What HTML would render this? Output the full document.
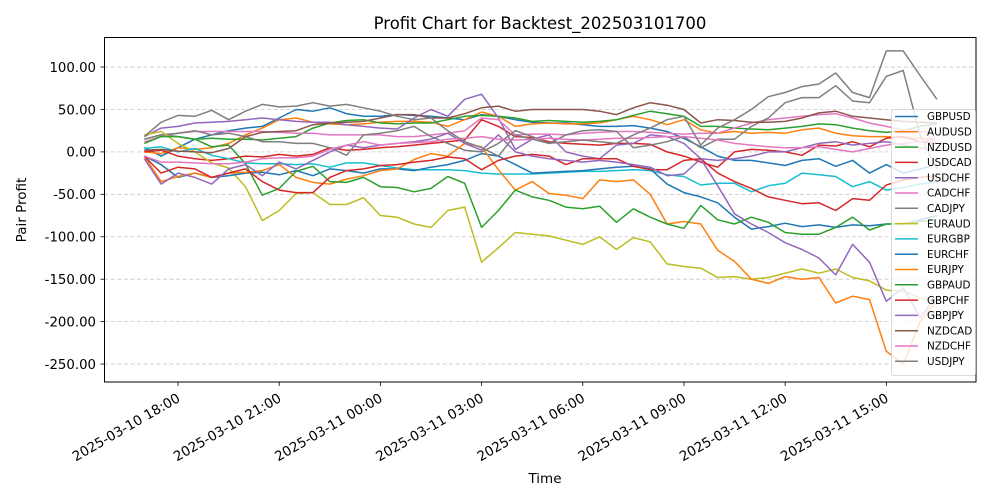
<!DOCTYPE html>
<html><head><meta charset="utf-8"><style>
html,body{margin:0;padding:0;background:#fff;}
svg{display:block;font-family:"DejaVu Sans","Liberation Sans",sans-serif;}
</style></head><body>
<svg id="chart" width="1000" height="500" viewBox="0 0 1000 500">
<rect width="1000" height="500" fill="#fff"/>
<g id="grid"></g>
<g id="series"></g>
<rect x="104.5" y="37.5" width="871.5" height="344.5" fill="none" stroke="#000" stroke-width="1"/>
<g id="axes"></g>
<text x="540" y="29" text-anchor="middle" font-size="16.5" fill="#000">Profit Chart for Backtest_202503101700</text>
<text x="545" y="483" text-anchor="middle" font-size="13.5" fill="#000">Time</text>
<text transform="translate(26,210) rotate(-90)" text-anchor="middle" font-size="13.5" fill="#000">Pair Profit</text>
<g id="legend"></g>
</svg>
<script>
// hours relative to 2025-03-10 18:00
const times = [-1,-0.5,0,0.5,1,1.5,2,2.5,3,3.5,4,4.5,5,5.5,6,6.5,7,7.5,8,8.5,9,9.5,10,10.5,11,11.5,12,12.5,13,13.5,14,14.5,15,15.5,16,16.5,17,17.5,18,18.5,19,19.5,20,20.5,21,21.5,22,22.5];
const seriesNames = ["GBPUSD","AUDUSD","NZDUSD","USDCAD","USDCHF","CADCHF","CADJPY","EURAUD","EURGBP","EURCHF","EURJPY","GBPAUD","GBPCHF","GBPJPY","NZDCAD","NZDCHF","USDJPY"];
const seriesColors = ["#1f77b4","#ff7f0e","#2ca02c","#d62728","#9467bd","#e377c2","#7f7f7f","#bcbd22","#17becf","#1f77b4","#ff7f0e","#2ca02c","#d62728","#9467bd","#8c564b","#e377c2","#7f7f7f"];
const GBPUSD = [5,-5,5,15,20,25,28,30,40,50,48,52,45,42,42,44,43,42,40,38,44,42,38,35,34,34,32,30,30,31,28,24,16,6,-5,-10,-10,-13,-16,-10,-8,-17,-10,-25,-15,-25,-20,-15];
const AUDUSD = [0,-2,5,3,5,10,20,28,38,40,35,33,32,33,35,36,36,35,30,38,47,42,30,33,34,33,33,34,38,42,38,32,38,26,22,24,22,23,22,26,28,22,19,18,18,17,16,15];
const NZDUSD = [15,20,18,15,16,15,15,14,16,18,28,34,37,38,34,33,34,34,38,42,43,42,40,36,37,36,35,36,38,43,48,45,42,30,30,28,27,26,28,30,33,32,28,25,23,25,30,33];
const USDCAD = [0,2,-5,-8,-10,-8,-5,-6,-3,-5,-3,5,2,3,5,6,8,10,12,14,38,30,18,17,12,10,9,8,10,10,9,0,-5,-12,-18,0,3,2,0,-4,8,7,12,6,16,18,12,10];
const USDCHF = [18,28,30,34,35,36,38,40,38,36,35,35,32,30,28,27,40,50,42,62,68,40,3,15,20,0,-5,-8,8,10,20,18,10,-8,-10,-8,-5,0,0,5,10,12,8,10,12,8,5,2];
const CADCHF = [12,18,22,24,24,24,24,24,23,22,22,20,20,20,20,18,18,20,22,25,40,38,20,21,21,20,22,23,24,24,23,22,21,22,22,28,34,38,40,42,44,45,40,34,30,26,24,22];
const CADJPY = [15,20,22,25,20,22,18,12,12,10,10,5,-4,20,22,25,30,18,10,2,0,10,25,18,10,20,25,26,24,5,8,12,18,5,15,15,30,40,58,64,64,78,60,58,89,96,20,-20];
const EURAUD = [20,24,10,0,-13,-19,-41,-81,-69,-49,-48,-62,-62,-54,-75,-77,-85,-89,-69,-65,-130,-113,-95,-97,-99,-104,-109,-100,-115,-101,-106,-132,-135,-137,-148,-147,-150,-148,-143,-138,-143,-138,-148,-152,-163,-164,-172,-176];
const EURGBP = [4,6,0,4,-4,-8,-13,-14,-14,-15,-14,-18,-13,-13,-16,-19,-21,-21,-21,-22,-25,-26,-26,-26,-25,-24,-23,-23,-22,-21,-22,-27,-29,-39,-37,-37,-47,-40,-37,-25,-27,-29,-41,-35,-45,-42,-38,-35];
const EURCHF = [-5,-15,-30,-25,-30,-28,-25,-24,-27,-22,-28,-20,-22,-25,-20,-20,-22,-18,-15,-10,-2,-5,-15,-25,-24,-23,-22,-20,-18,-17,-20,-38,-48,-53,-60,-77,-91,-88,-84,-88,-86,-89,-86,-87,-85,-85,-80,-75];
const EURJPY = [-5,-35,-29,-25,-30,-25,-24,-22,-15,-30,-36,-38,-32,-28,-22,-20,-9,-2,-5,10,6,-21,-45,-35,-49,-51,-55,-33,-35,-33,-50,-85,-82,-85,-116,-129,-150,-155,-147,-150,-148,-178,-170,-174,-235,-250,-200,-175];
const GBPAUD = [10,18,18,15,6,8,-14,-51,-43,-23,-17,-35,-36,-30,-41,-42,-47,-43,-29,-37,-89,-69,-45,-53,-57,-65,-67,-64,-83,-67,-77,-85,-90,-63,-80,-85,-77,-83,-95,-97,-97,-89,-77,-92,-85,-85,-82,-80];
const GBPCHF = [-5,-25,-18,-20,-30,-25,-20,-35,-45,-48,-48,-30,-22,-20,-16,-15,-12,-10,-6,-8,-21,-10,-5,-3,-5,-15,-8,-8,-8,-17,-21,-21,-10,-8,-25,-35,-43,-53,-57,-61,-60,-69,-55,-57,-39,-33,-30,-28];
const GBPJPY = [-8,-38,-25,-30,-38,-20,-15,-28,-12,-20,-10,0,8,5,8,10,12,15,22,10,2,20,0,-5,-8,-10,-12,-10,-12,-15,-18,-28,-26,-8,-40,-73,-85,-95,-107,-115,-125,-145,-109,-130,-176,-160,-195,-170];
const NZDCAD = [2,3,1,0,-1,4,18,23,24,25,32,34,35,36,40,44,44,40,40,45,52,54,48,50,50,50,50,48,44,52,58,55,50,34,38,37,35,35,36,40,46,48,42,40,38,36,35,34];
const NZDCHF = [-5,-12,-12,-13,-14,-14,-12,-8,-7,-7,-5,3,8,12,8,10,11,12,15,16,18,15,14,15,16,15,14,15,16,16,17,18,18,16,14,10,8,6,5,5,6,3,0,4,8,10,12,15];
const USDJPY = [18,35,43,42,49,38,48,56,53,54,58,54,56,52,48,42,38,40,25,12,5,-5,20,15,10,12,14,12,10,20,28,38,42,8,28,38,50,65,70,77,80,93,70,64,119,119,90,62];
const yTicks = [100,50,0,-50,-100,-150,-200,-250];
const xTicks = [0,3,6,9,12,15,18,21];
const xTickLabels = ["2025-03-10 18:00","2025-03-10 21:00","2025-03-11 00:00","2025-03-11 03:00","2025-03-11 06:00","2025-03-11 09:00","2025-03-11 12:00","2025-03-11 15:00"];

const seriesData = [GBPUSD,AUDUSD,NZDUSD,USDCAD,USDCHF,CADCHF,CADJPY,EURAUD,EURGBP,EURCHF,EURJPY,GBPAUD,GBPCHF,GBPJPY,NZDCAD,NZDCHF,USDJPY];
const NS = "http://www.w3.org/2000/svg";
function xScale(h){ return 178 + h * 33.73; }
function yScale(v){ return 151.9 - v * 0.8486; }

const grid = document.getElementById('grid');
const axes = document.getElementById('axes');
yTicks.forEach(function(t){
  const y = yScale(t);
  const gl = document.createElementNS(NS,'line');
  gl.setAttribute('x1',104.5); gl.setAttribute('x2',976); gl.setAttribute('y1',y); gl.setAttribute('y2',y);
  gl.setAttribute('stroke','#b0b0b0'); gl.setAttribute('stroke-opacity','0.7'); gl.setAttribute('stroke-dasharray','4,2.5'); gl.setAttribute('stroke-width','0.8');
  
  
  grid.appendChild(gl);
  const tk = document.createElementNS(NS,'line');
  tk.setAttribute('x1',100.5); tk.setAttribute('x2',104.5); tk.setAttribute('y1',y); tk.setAttribute('y2',y);
  tk.setAttribute('stroke','#000'); tk.setAttribute('stroke-width','0.8');
  
  
  axes.appendChild(tk);
  const tx = document.createElementNS(NS,'text');
  tx.setAttribute('x',96); tx.setAttribute('y',y+4.8); tx.setAttribute('text-anchor','end'); tx.setAttribute('font-size','13.3');
  tx.textContent = t.toFixed(2);
  
  
  axes.appendChild(tx);
});
xTicks.forEach(function(h,i){
  const x = xScale(h);
  const tk = document.createElementNS(NS,'line');
  tk.setAttribute('x1',x); tk.setAttribute('x2',x); tk.setAttribute('y1',382); tk.setAttribute('y2',386);
  tk.setAttribute('stroke','#000'); tk.setAttribute('stroke-width','0.8');
  
  
  axes.appendChild(tk);
  const tx = document.createElementNS(NS,'text');
  tx.setAttribute('transform','translate('+(x-2)+',392) rotate(-30)');
  tx.setAttribute('text-anchor','end'); tx.setAttribute('font-size','13.5'); tx.setAttribute('dy','0.75em');
  tx.textContent = xTickLabels[i];
  
  
  axes.appendChild(tx);
});

const sg = document.getElementById('series');
seriesData.forEach(function(vals,k){
  let d = '';
  vals.forEach(function(v,i){ d += (i? 'L':'M') + xScale(times[i]).toFixed(1) + ',' + yScale(v).toFixed(1); });
  const p = document.createElementNS(NS,'path');
  p.setAttribute('d',d); p.setAttribute('fill','none'); p.setAttribute('stroke',seriesColors[k]);
  p.setAttribute('stroke-width','1.5'); p.setAttribute('stroke-linejoin','round');
  
  
  sg.appendChild(p);
});

const lg = document.getElementById('legend');
const box = document.createElementNS(NS,'rect');
box.setAttribute('x',891.5); box.setAttribute('y',109.5); box.setAttribute('width',84); box.setAttribute('height',266);
box.setAttribute('rx',2); box.setAttribute('fill','#fff'); box.setAttribute('fill-opacity','0.8'); box.setAttribute('stroke','#d0d0d0'); box.setAttribute('stroke-width','0.8');


lg.appendChild(box);
seriesNames.forEach(function(n,k){
  const y = 116.5 + k * 15.3;
  const ln = document.createElementNS(NS,'line');
  ln.setAttribute('x1',895); ln.setAttribute('x2',918); ln.setAttribute('y1',y); ln.setAttribute('y2',y);
  ln.setAttribute('stroke',seriesColors[k]); ln.setAttribute('stroke-width','1.5');
  
  
  lg.appendChild(ln);
  const tx = document.createElementNS(NS,'text');
  tx.setAttribute('x',927); tx.setAttribute('y',y+3.7); tx.setAttribute('font-size','10.4');
  tx.textContent = n;
  
  
  lg.appendChild(tx);
});
</script>
</body></html>
